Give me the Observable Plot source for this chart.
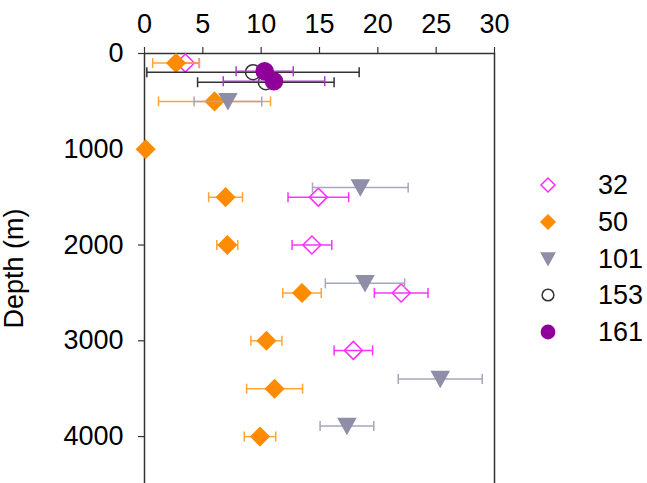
<!DOCTYPE html>
<html>
<head>
<meta charset="utf-8">
<script src="https://cdn.jsdelivr.net/npm/d3@7"></script>
<script src="https://cdn.jsdelivr.net/npm/@observablehq/plot@0.6"></script>
<style>
  html, body { margin: 0; padding: 0; background: #fff; }
  #wrap { position: relative; width: 647px; height: 483px; overflow: hidden; font-family: "Liberation Sans", Arial, sans-serif; }
  #legend { position: absolute; left: 0; top: 0; }
  .lg-row { position: absolute; display: flex; align-items: center; height: 30px; }
  .lg-row span { position: absolute; left: 50px; font-size: 27px; line-height: 30px; color: #000; white-space: nowrap; }
</style>
</head>
<body>
<div id="wrap"><div id="chart"></div><div id="legend"></div></div>
<script>
// ---- data ----
const seriesNames = ["32", "50", "101", "153", "161"];

const depth32 = [100, 1500, 2000, 2500, 3100];
const value32 = [3.5, 14.9, 14.35, 22.0, 17.9];
const err32   = [1.2, 2.6, 1.7, 2.3, 1.65];

const depth50 = [100, 500, 1000, 1500, 2000, 2500, 3000, 3500, 4000];
const value50 = [2.7, 6.0, 0.1, 6.95, 7.1, 13.5, 10.45, 11.15, 9.9];
const err50   = [2.0, 4.8, 0, 1.45, 0.9, 1.65, 1.33, 2.4, 1.35];

const depth101 = [500, 1400, 2400, 3400, 3890];
const value101 = [7.15, 18.5, 18.9, 25.35, 17.35];
const err101   = [2.9, 4.1, 3.4, 3.6, 2.3];

const depth153 = [195, 300];
const value153 = [9.3, 10.4];
const err153   = [9.1, 5.85];

const depth161 = [185, 290];
const value161 = [10.3, 11.1];
const err161   = [2.45, 4.35];

const xTicks = [0, 5, 10, 15, 20, 25, 30];
const yTicks = [0, 1000, 2000, 3000, 4000];

// ---- styles ----
const styles = {
  "32":  {marker: "diamond",  fill: "none",    stroke: "#ff2bff", bar: "#ff33ff", r: 9},
  "50":  {marker: "diamond",  fill: "#ff8c00", stroke: "#ff8c00", bar: "#ffa438", r: 9},
  "101": {marker: "triDown",  fill: "#8e8ea8", stroke: "#8e8ea8", bar: "#a6a6bc", r: 8.5},
  "153": {marker: "circle",   fill: "none",    stroke: "#333333", bar: "#333333", r: 7.5},
  "161": {marker: "circle",   fill: "#8e0099", stroke: "#8e0099", bar: "#a93ac4", r: 8.5}
};

const rad = (size) => Math.sqrt(size / Math.PI);
const symbols = {
  diamond: {draw(c, size) { const r = rad(size); c.moveTo(0, -r); c.lineTo(r, 0); c.lineTo(0, r); c.lineTo(-r, 0); c.closePath(); }},
  triDown: {draw(c, size) { const r = rad(size); c.moveTo(-r, -0.9 * r); c.lineTo(r, -0.9 * r); c.lineTo(0, 0.9 * r); c.closePath(); }},
  circle: "circle",
  cap: {draw(c, size) { const r = rad(size); c.moveTo(0, -r); c.lineTo(0, r); }}
};

const rows = (name, d, v, e) => d.map((dep, i) => ({series: name, depth: dep, value: v[i], err: e[i]}));
const table = {
  "32": rows("32", depth32, value32, err32),
  "50": rows("50", depth50, value50, err50),
  "101": rows("101", depth101, value101, err101),
  "153": rows("153", depth153, value153, err153),
  "161": rows("161", depth161, value161, err161)
};

const marks = [];
for (const name of seriesNames) {
  const s = styles[name];
  const data = table[name];
  const withErr = data.filter(d => d.err > 0);
  marks.push(
    Plot.link(withErr, {x1: d => d.value - d.err, x2: d => d.value + d.err, y1: "depth", y2: "depth", stroke: s.bar, strokeWidth: 1.5}),
    Plot.dot(withErr, {x: d => d.value - d.err, y: "depth", symbol: symbols.cap, r: 5, fill: "none", stroke: s.bar, strokeWidth: 1.5}),
    Plot.dot(withErr, {x: d => d.value + d.err, y: "depth", symbol: symbols.cap, r: 5, fill: "none", stroke: s.bar, strokeWidth: 1.5}),
    Plot.dot(data, {x: "value", y: "depth", symbol: symbols[s.marker], r: s.r, fill: s.fill, stroke: s.stroke, strokeWidth: 1.5})
  );
}

const chart = Plot.plot({
  width: 647,
  height: 483,
  marginLeft: 144,
  marginRight: 153,
  marginTop: 53,
  marginBottom: 0,
  style: {fontFamily: "Liberation Sans, Arial, sans-serif", fontSize: "27px", color: "#000", background: "#fff", overflow: "visible"},
  x: {domain: [0, 30], axis: null},
  y: {domain: [0, 4490], reverse: true, axis: null},
  marks: [
    Plot.ruleY([0], {stroke: "#333", strokeWidth: 1.5}),
    Plot.ruleX([0, 30], {stroke: "#333", strokeWidth: 1.5}),
    Plot.axisX(xTicks, {anchor: "top", tickSize: 7, tickPadding: 14, fontSize: 27, stroke: "#333", strokeWidth: 1.2, label: null}),
    Plot.axisY(yTicks, {anchor: "left", tickSize: 6, tickPadding: 15, fontSize: 27, stroke: "#333", strokeWidth: 1.2, tickFormat: d => String(d), label: null}),
    Plot.axisY({anchor: "left", ticks: [], label: "Depth (m)", labelAnchor: "center", labelArrow: "none", labelOffset: 141, fontSize: 27}),
    ...marks
  ]
});
document.getElementById("chart").appendChild(chart);

// ---- legend ----
const legend = d3.select("#legend");
const rowY = [185, 222, 259, 295, 332];
seriesNames.forEach((name, i) => {
  const s = styles[name];
  const row = legend.append("div").attr("class", "lg-row")
    .style("left", "533px").style("top", (rowY[i] - 15) + "px");
  const svg = row.append("svg").attr("width", 30).attr("height", 30);
  const sym = symbols[s.marker];
  const size = Math.PI * (s.r * 0.78) ** 2;
  const path = typeof sym === "string" ? d3.symbol(d3.symbolCircle, size)() : d3.symbol(sym, size)();
  svg.append("path").attr("d", path).attr("transform", "translate(15,15)")
    .attr("fill", s.fill).attr("stroke", s.stroke).attr("stroke-width", 1.5);
  row.append("span").text(name).style("left", "65px");
});
</script>
</body>
</html>
